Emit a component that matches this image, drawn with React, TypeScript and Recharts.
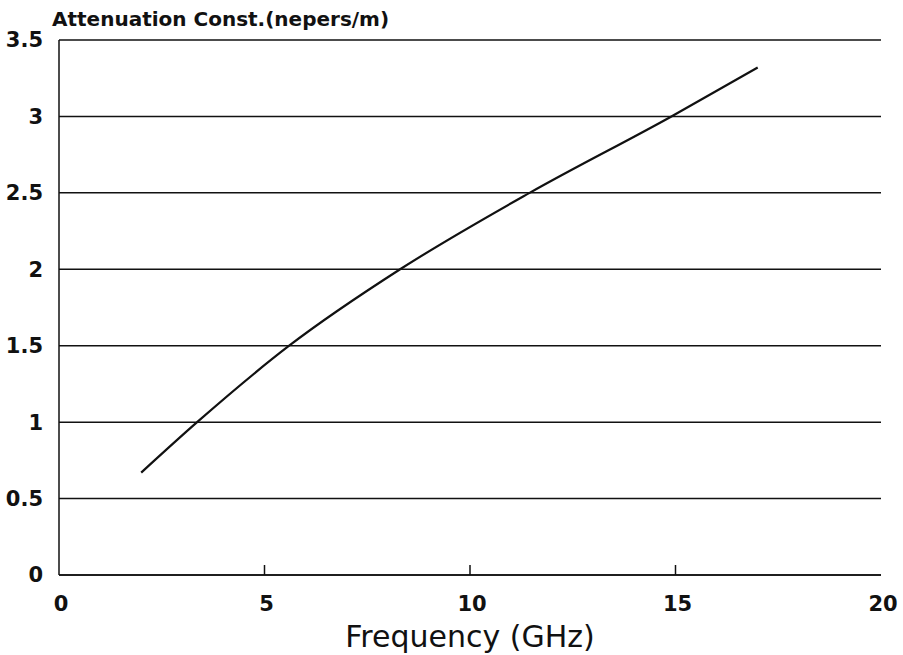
import { LineChart, Line, XAxis, YAxis, CartesianGrid, Label } from 'recharts';

const freqGHz = [2.0, 3.36, 5.6, 8.3, 11.45, 14.9, 17.0];
const attenuation = [0.67, 1.0, 1.5, 2.0, 2.5, 3.0, 3.32];
const xTicks = [0, 5, 10, 15, 20];
const yTicks = [0, 0.5, 1, 1.5, 2, 2.5, 3, 3.5];

const data = freqGHz.map((f, i) => ({ f, a: attenuation[i] }));

const FONT = '"DejaVu Sans", sans-serif';

// x ticks point up into the plot, label hangs below the axis
const InwardTick = ({ x, y, payload }: any) => (
  <g>
    {payload.value > 0 && payload.value < 20 && (
      <line x1={x} x2={x} y1={y} y2={y - 10} stroke="#111" strokeWidth={1.5} />
    )}
    <text
      x={x + 2}
      y={y + 36}
      textAnchor="middle"
      fill="#111"
      fontSize={21}
      fontWeight="bold"
      fontFamily={FONT}
    >
      {payload.value}
    </text>
  </g>
);

export default function App() {
  return (
    <div style={{ position: 'absolute', left: 0, top: 0, background: '#fff' }}>
      <LineChart width={903} height={655} data={data} margin={{ top: 40, right: 22, left: 0, bottom: 0 }}>
        <CartesianGrid vertical={false} stroke="#111" strokeWidth={1.5} />
        <XAxis
          type="number"
          dataKey="f"
          domain={[0, 20]}
          ticks={xTicks}
          height={80}
          stroke="#111"
          strokeWidth={1.5}
          tickLine={false}
          tickSize={0}
          tickMargin={0}
          tick={<InwardTick />}
        >
          <Label
            value="Frequency (GHz)"
            position="insideBottom"
            offset={8}
            style={{ fill: '#111', fontSize: 30, fontFamily: FONT }}
          />
        </XAxis>
        <YAxis
          type="number"
          domain={[0, 3.5]}
          ticks={yTicks}
          width={59}
          stroke="#111"
          strokeWidth={1.5}
          tickLine={false}
          tickMargin={10}
          tick={{ fill: '#111', fontSize: 21, fontWeight: 'bold', fontFamily: FONT }}
        >
          <Label
            content={({ viewBox }: any) => (
              <text
                x={viewBox.x + 52}
                y={viewBox.y - 14}
                fill="#111"
                fontSize={20}
                fontWeight="bold"
                fontFamily={FONT}
              >
                Attenuation Const.(nepers/m)
              </text>
            )}
          />
        </YAxis>
        <YAxis
          yAxisId="right"
          orientation="right"
          width={0}
          stroke="#111"
          strokeWidth={1.5}
          tick={false}
          tickLine={false}
        />
        <Line
          type="monotone"
          dataKey="a"
          stroke="#111"
          strokeWidth={2.2}
          dot={false}
          isAnimationActive={false}
        />
      </LineChart>
    </div>
  );
}
